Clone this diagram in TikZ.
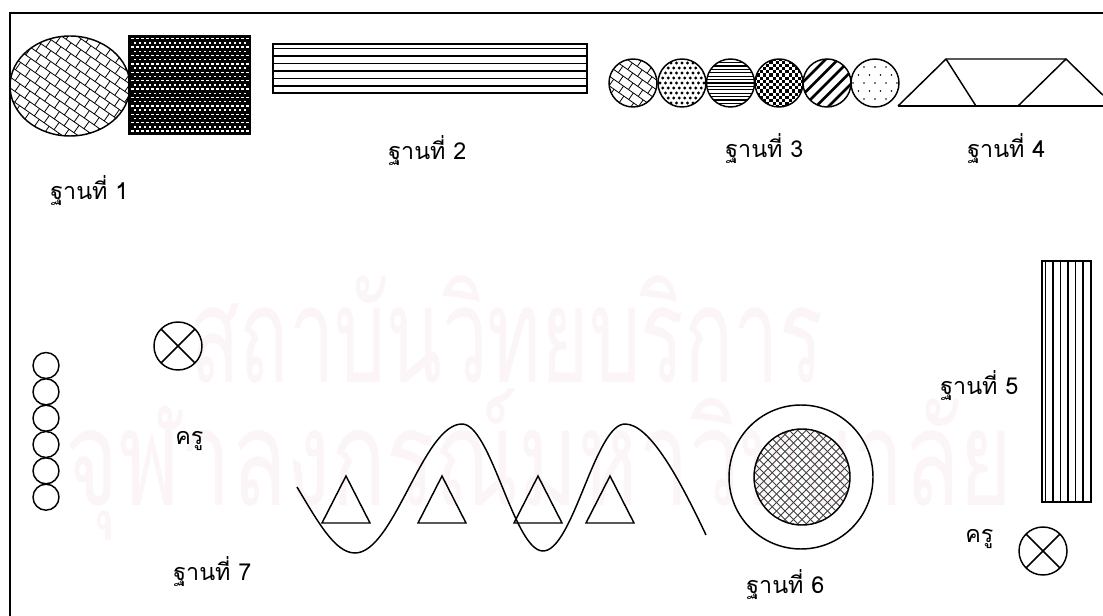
\documentclass[tikz,border=0pt]{standalone}
\usepackage{fontspec}
\usepackage{graphicx}
\newfontfamily\thai[Script=Thai]{Loma}
\definecolor{wm}{rgb}{0.85,0.35,0.55}
\tikzset{
  lbl/.style={font=\thai\fontsize{17.5}{20}\selectfont, inner sep=0pt, anchor=base west},
  shp/.style={draw=black, line width=1.1pt},
  thinpat/.style={line width=0.6pt},
  wmark/.style={font=\thai\fontsize{100}{110}\selectfont, text=wm, text opacity=0.06, inner sep=0pt, anchor=base west},
}
\begin{document}
\begin{tikzpicture}[x=0.75pt,y=-0.75pt]
\useasboundingbox (0,0) rectangle (1103,616);
\fill[white] (0,0) rectangle (1103,616);
% watermark
\node[wmark] (wm1) at (190,383) {\scalebox{0.61}[1]{สถาบันวิทยบริการ}};
\node[wmark] (wm2) at (65,505) {\scalebox{0.68}[1]{จุฬาลงกรณ์มหาวิทยาลัย}};
% frame
\draw[line width=1.5pt] (10,616) -- (10,13) -- (1103,13);

% ---------- station 1
\begin{scope}
  \clip (70,86) ellipse [x radius=60, y radius=50];
  \begin{scope}[shift={(70,86)}, rotate=-35]
    \foreach \i in {-9,...,9} {
      \draw[thinpat] (-90,\i*9) -- (90,\i*9);
      \pgfmathsetmacro\off{6*mod(\i+20,2)}
      \foreach \j in {-8,...,8} \draw[thinpat] (\j*12+\off,\i*9) -- ++(0,9);
    }
  \end{scope}
\end{scope}
\draw[shp] (70,86) ellipse [x radius=60, y radius=50];
\fill (129,36) rectangle (250,134);
\begin{scope}
  \clip (129,36) rectangle (250,134);
  \foreach \r in {0,...,22} {
    \pgfmathsetmacro\off{2.5*mod(\r,2)}
    \foreach \c in {0,...,23} \fill[white] (131+\c*5+\off, 38+\r*4.2) rectangle ++(2.6,1.5);
  }
\end{scope}
\draw[shp] (129,36) rectangle (250,134);
\node[lbl] (l1) at (50,200) {ฐานที่ 1};

% ---------- station 2
\draw[shp] (273,44) rectangle (587,93);
\foreach \y in {48.3,55.8,63.3,70.8,78.3,85.8} \draw[line width=1.1pt] (273,\y) -- (587,\y);
\node[lbl] (l2) at (388,160) {ฐานที่ 2};

% ---------- station 3
\begin{scope}
  \clip (633,83) circle [radius=24];
  \begin{scope}[shift={(633,83)}, rotate=-35]
    \foreach \i in {-5,...,5} {
      \draw[thinpat] (-40,\i*8) -- (40,\i*8);
      \pgfmathsetmacro\off{6*mod(\i+20,2)}
      \foreach \j in {-4,...,4} \draw[thinpat] (\j*12+\off,\i*8) -- ++(0,8);
    }
  \end{scope}
\end{scope}
\draw[shp] (633,83) circle [radius=24];
\begin{scope}
  \clip (682,83) circle [radius=24];
  \foreach \r in {-5,...,5} {
    \pgfmathsetmacro\off{2.75*mod(\r+10,2)}
    \foreach \c in {-5,...,5} \fill (682+\c*5.5+\off, 83+\r*5) circle [radius=1.6];
  }
\end{scope}
\draw[shp] (682,83) circle [radius=24];
\begin{scope}
  \clip (730.5,83) circle [radius=24];
  \foreach \k in {-7,...,7} \draw[line width=0.9pt] (700,83+\k*3.4) -- (760,83+\k*3.4);
\end{scope}
\draw[shp] (730.5,83) circle [radius=24];
\begin{scope}
  \clip (779,83) circle [radius=24];
  \foreach \r in {-8,...,7} {
    \foreach \c in {-8,...,7} {
      \pgfmathtruncatemacro\chk{mod(\r+\c+32,2)}
      \ifnum\chk=0 \fill (779+\c*3.2, 83+\r*3.2) rectangle ++(3.2,3.2); \fi
    }
  }
\end{scope}
\draw[shp] (779,83) circle [radius=24];
\begin{scope}
  \clip (827,83) circle [radius=24];
  \foreach \k in {-6,...,6} \draw[line width=2pt] (827+\k*12.5-40, 123) -- ++(80,-80);
\end{scope}
\draw[shp] (827,83) circle [radius=24];
\begin{scope}
  \clip (875,83) circle [radius=24];
  \foreach \r in {-3,...,3} {
    \pgfmathsetmacro\off{5.5*mod(\r+10,2)}
    \foreach \c in {-3,...,3} \fill (875+\c*11+\off, 83+\r*8) circle [radius=0.9];
  }
\end{scope}
\draw[shp] (875,83) circle [radius=24];
\node[lbl] (l3) at (725,158) {ฐานที่ 3};

% ---------- station 4
\draw[shp] (898,106) -- (1103,106);
\draw[shp] (898,106) -- (946,59) -- (1066,59) -- (1103,95.2);
\draw[shp] (946,59) -- (976,106);
\draw[shp] (1018,106) -- (1066,59);
\node[lbl] (l4) at (967,158) {ฐานที่ 4};

% ---------- station 5
\draw[shp] (1042,261) rectangle (1091,502);
\foreach \x in {1045.5,1053,1060.5,1068,1075.5,1083} \draw[line width=0.9pt] (\x,261) -- (\x,502);
\node[lbl] (l5) at (940,395) {ฐานที่ 5};
\draw[shp] (1043,551) circle [radius=24];
\draw[shp] (1043,551) +(45:24) -- +(225:24);
\draw[shp] (1043,551) +(135:24) -- +(-45:24);
\node[lbl] (k2) at (965,542) {ครู};

% ---------- station 6
\draw[shp] (801,477) circle [radius=72];
\begin{scope}
  \clip (802,477) circle [radius=48];
  \foreach \k in {-14,...,14} {
    \draw[line width=0.55pt, black!75] (802+\k*8.5-55, 532) -- ++(110,-110);
    \draw[line width=0.55pt, black!75] (802+\k*8.5-55, 422) -- ++(110,110);
  }
\end{scope}
\draw[shp] (802,477) circle [radius=48];
\node[lbl] (l6) at (746,593) {ฐานที่ 6};

% ---------- wave and triangles
\draw[shp] (297,487) .. controls (318,522) and (335,553) .. (355,553)
  .. controls (394,553) and (423,424) .. (462,424)
  .. controls (491,424) and (514,551) .. (543,551)
  .. controls (573,551) and (595,424) .. (625,424)
  .. controls (650,424) and (680,480) .. (706,535);
\foreach \a in {346,442,538,610} \draw[shp] (\a-24,523) -- (\a+24,523) -- (\a,476) -- cycle;

% ---------- station 7
\foreach \y in {365.5,391.8,418.2,444.5,470.8,497.2} \draw[shp] (46,\y) circle [radius=13];
\draw[shp] (178,346) circle [radius=24];
\draw[shp] (178,346) +(45:24) -- +(225:24);
\draw[shp] (178,346) +(135:24) -- +(-45:24);
\node[lbl] (k1) at (175,445) {ครู};
\node[lbl] (l7) at (173,580) {ฐานที่ 7};
\end{tikzpicture}
\end{document}
